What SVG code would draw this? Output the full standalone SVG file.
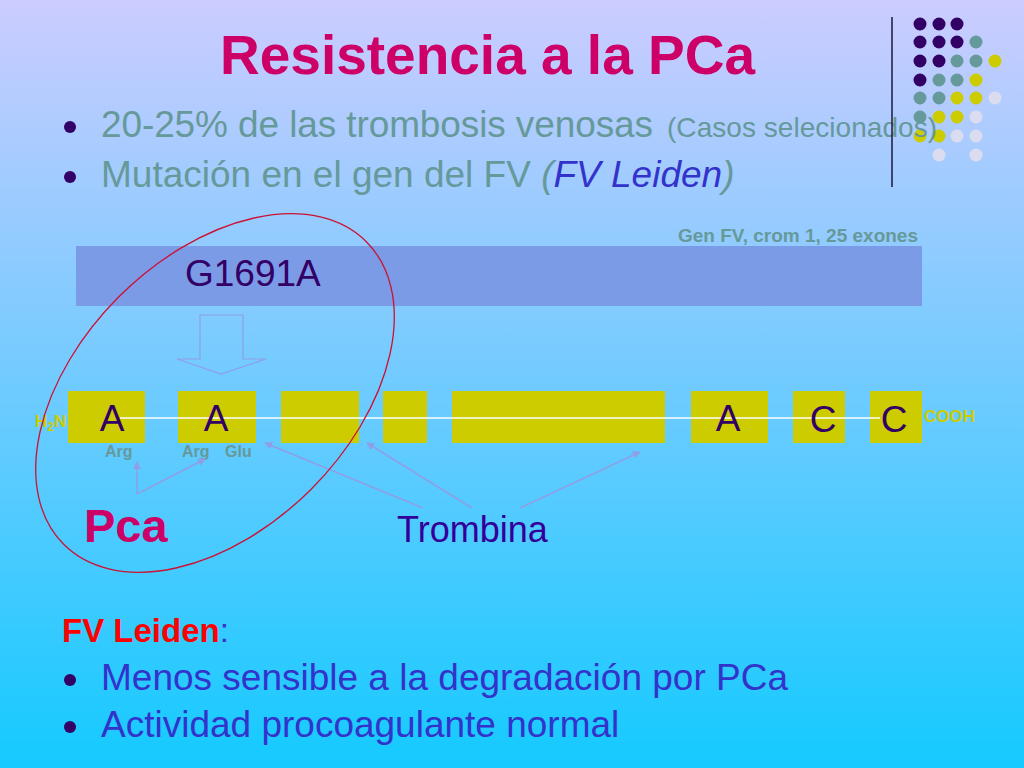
<svg xmlns="http://www.w3.org/2000/svg" width="1024" height="768" viewBox="0 0 1024 768">
<defs>
<linearGradient id="bg" x1="0" y1="0" x2="0" y2="1">
<stop offset="0" stop-color="#ccccff"/>
<stop offset="1" stop-color="#14caff"/>
</linearGradient>
<marker id="ah" markerWidth="8" markerHeight="8" refX="7" refY="4" orient="auto" markerUnits="userSpaceOnUse">
<path d="M0,0 L8,4 L0,8 Z" fill="#8f9fe6"/>
</marker>
<style>
.f{font-family:"Liberation Sans",Arial,sans-serif}
.b{font-weight:bold}
.dk{fill:#330066}
.tl{fill:#669999}
.yl{fill:#cccc00}
.lt{fill:#dcdcf0}
.box{fill:#cccc00}
.conn{stroke:#8f9fe6;stroke-width:1.5;fill:none;marker-end:url(#ah)}
.let{font-family:"Liberation Sans",Arial,sans-serif;font-size:37px;fill:#330066;text-anchor:middle}
.lab{font-family:"Liberation Sans",Arial,sans-serif;font-size:16px;font-weight:bold;fill:#669999}
</style>
</defs>
<rect width="1024" height="768" fill="url(#bg)"/>

<g id="dots">
<circle class="dk" cx="920" cy="24" r="6.5"/><circle class="dk" cx="939" cy="24" r="6.5"/><circle class="dk" cx="957" cy="24" r="6.5"/>
<circle class="dk" cx="920" cy="42" r="6.5"/><circle class="dk" cx="939" cy="42" r="6.5"/><circle class="dk" cx="957" cy="42" r="6.5"/><circle class="tl" cx="976" cy="42" r="6.5"/>
<circle class="dk" cx="920" cy="61" r="6.5"/><circle class="dk" cx="939" cy="61" r="6.5"/><circle class="tl" cx="957" cy="61" r="6.5"/><circle class="tl" cx="976" cy="61" r="6.5"/><circle class="yl" cx="995" cy="61" r="6.5"/>
<circle class="dk" cx="920" cy="80" r="6.5"/><circle class="tl" cx="939" cy="80" r="6.5"/><circle class="tl" cx="957" cy="80" r="6.5"/><circle class="yl" cx="976" cy="80" r="6.5"/>
<circle class="tl" cx="920" cy="98" r="6.5"/><circle class="tl" cx="939" cy="98" r="6.5"/><circle class="yl" cx="957" cy="98" r="6.5"/><circle class="yl" cx="976" cy="98" r="6.5"/><circle class="lt" cx="995" cy="98" r="6.5"/>
<circle class="tl" cx="920" cy="117" r="6.5"/><circle class="yl" cx="939" cy="117" r="6.5"/><circle class="yl" cx="957" cy="117" r="6.5"/><circle class="lt" cx="976" cy="117" r="6.5"/>
<circle class="yl" cx="920" cy="136" r="6.5"/><circle class="yl" cx="939" cy="136" r="6.5"/><circle class="lt" cx="957" cy="136" r="6.5"/><circle class="lt" cx="976" cy="136" r="6.5"/>
<circle class="lt" cx="939" cy="155" r="6.5"/><circle class="lt" cx="976" cy="155" r="6.5"/>
</g>

<g id="title">
<text class="f b" x="220" y="74" font-size="55" fill="#cc0066" textLength="535" lengthAdjust="spacingAndGlyphs">Resistencia a la PCa</text>
</g>

<g id="bullets-top">
<circle class="dk" cx="70" cy="127" r="6"/>
<text class="f" x="101" y="137" font-size="37" fill="#669999"><tspan textLength="552">20-25% de las trombosis venosas</tspan><tspan x="667" font-size="28" textLength="270">(Casos selecionados)</tspan></text>
<circle class="dk" cx="70" cy="177" r="6"/>
<text class="f" x="101" y="187" font-size="37" fill="#669999">Mutación en el gen del FV <tspan font-style="italic">(<tspan fill="#3333cc">FV Leiden</tspan>)</tspan></text>
</g>

<line x1="892" y1="17" x2="892" y2="187" stroke="#1a1a40" stroke-width="1.5"/>

<g id="gene">
<text class="f b" x="918" y="242" font-size="19" fill="#669999" text-anchor="end">Gen FV, crom 1, 25 exones</text>
<rect x="76" y="246" width="846" height="60" fill="#7b9be6"/>
<text class="f" x="185" y="286" font-size="37" fill="#330066">G1691A</text>
</g>

<g id="mutation-arrow">
<polygon points="200,315 243,315 243,359 266,359 221,374 177,359 200,359" fill="none" stroke="#8da0e6" stroke-width="1.2"/>
</g>

<g id="protein">
<rect class="box" x="68" y="391" width="77" height="52"/>
<rect class="box" x="178" y="391" width="78" height="52"/>
<rect class="box" x="281" y="391" width="78" height="52"/>
<rect class="box" x="383" y="391" width="44" height="52"/>
<rect class="box" x="452" y="391" width="213" height="52"/>
<rect class="box" x="691" y="391" width="77" height="52"/>
<rect class="box" x="793" y="391" width="52" height="52"/>
<rect class="box" x="870" y="391" width="52" height="52"/>
<line x1="120" y1="418" x2="880" y2="418" stroke="#ffffff" stroke-width="1.5"/>
<text class="let" x="112" y="431">A</text>
<text class="let" x="216" y="431">A</text>
<text class="let" x="728" y="431">A</text>
<text class="let" x="823" y="432">C</text>
<text class="let" x="894" y="432">C</text>
<text class="f b" x="35" y="427" font-size="17" fill="#cccc00">H<tspan font-size="12" dy="4">2</tspan><tspan dy="-4">N</tspan></text>
<text class="f b" x="924" y="422" font-size="17" fill="#cccc00">COOH</text>
<text class="lab" x="105" y="457">Arg</text>
<text class="lab" x="182" y="457">Arg</text>
<text class="lab" x="225" y="457">Glu</text>
</g>

<g id="connectors">
<line class="conn" x1="137" y1="494" x2="137" y2="462"/>
<line class="conn" x1="137" y1="494" x2="205" y2="459"/>
<line class="conn" x1="423" y1="508" x2="265" y2="443"/>
<line class="conn" x1="472" y1="508" x2="367" y2="443"/>
<line class="conn" x1="520" y1="508" x2="640" y2="452"/>
</g>

<g id="pca">
<text class="f b" x="84" y="542" font-size="47" fill="#cc0066">Pca</text>
</g>
<g id="trombina">
<text class="f" x="397" y="542" font-size="36" fill="#330099">Trombina</text>
</g>

<ellipse cx="215" cy="393" rx="214" ry="136" transform="rotate(-45 215 393)" fill="none" stroke="#cc1133" stroke-width="1.3"/>

<g id="bullets-bottom">
<text class="f" x="62" y="642" font-size="33"><tspan class="b" fill="#ff0000">FV Leiden</tspan><tspan fill="#3333cc">:</tspan></text>
<circle class="dk" cx="70" cy="680" r="6"/>
<text class="f" x="101" y="690" font-size="37" fill="#3333cc">Menos sensible a la degradación por PCa</text>
<circle class="dk" cx="70" cy="727" r="6"/>
<text class="f" x="101" y="737" font-size="37" fill="#3333cc">Actividad procoagulante normal</text>
</g>
</svg>
